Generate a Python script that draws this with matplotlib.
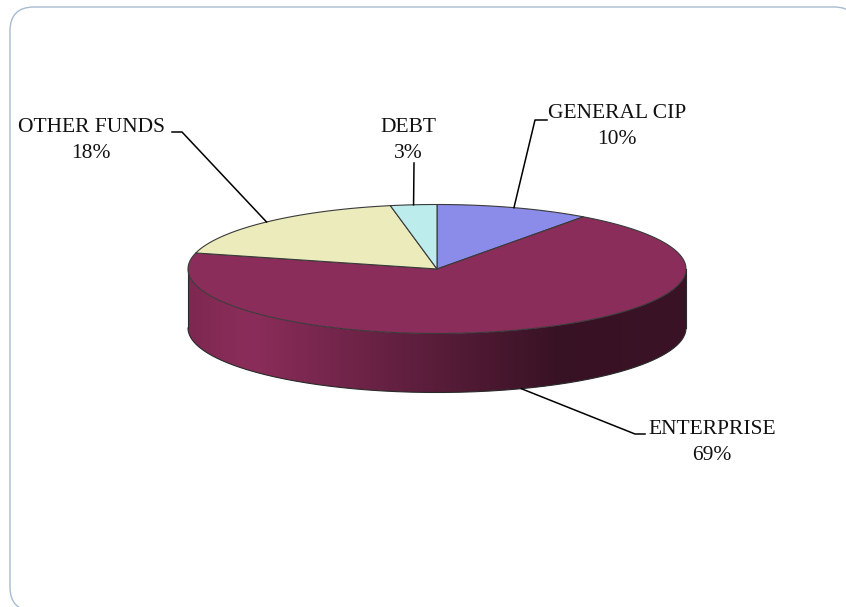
import numpy as np
import matplotlib
matplotlib.use("Agg")
import matplotlib.pyplot as plt
from matplotlib.patches import Polygon, FancyBboxPatch

labels = ["GENERAL CIP", "ENTERPRISE", "OTHER FUNDS", "DEBT"]
values = [10, 69, 18, 3]
colors = ["#8b8ce9", "#8b2d5a", "#ecebbc", "#bcecec"]

# label text centres (pixels) and elbow of each leader line
label_pos = [(617, 113), (712, 429), (91, 128), (408, 128)]
elbows = [[(547, 120), (535, 120)],
          [(645, 434), (635, 434)],
          [(172, 132), (182, 132)],
          [(414, 163)]]

# pie geometry in pixels
cx, cy = 437, 269
a, b = 249, 64.5
depth = 59

W, H = 846, 607
fig = plt.figure(figsize=(W / 100, H / 100), dpi=100)
ax = fig.add_axes([0, 0, 1, 1])

# rounded frame
frame = FancyBboxPatch((10, 7), 848, 604, boxstyle="round,pad=0,rounding_size=24",
                       fc="white", ec="#a9bbd0", lw=1.0, zorder=0)
ax.add_patch(frame)

def pt(t, dz=0.0):
    t = np.radians(t)
    return cx + a * np.cos(t), cy - b * np.sin(t) + dz

# brightness of the side wall vs. horizontal position (cos of angle)
def shade_factor(c):
    return np.interp(c, [-1, -0.75, 0.49, 1], [0.9, 1.0, 0.4, 0.42])

# slice angles: start at 12 o'clock, go clockwise
fracs = np.array(values) / sum(values)
starts = 90 - 360 * np.concatenate([[0], np.cumsum(fracs)[:-1]])
ends = starts - 360 * fracs
mids = (starts + ends) / 2

# side wall (front half only, angles -180..0), gradient clipped to the wall
xg = np.linspace(cx - a, cx + a, 600)
fg = shade_factor((xg - cx) / a)
for s, e, col in zip(starts, ends, colors):
    rgb = np.array(matplotlib.colors.to_rgb(col))
    for off in (0, -360, 360):
        lo, hi = max(e + off, -180), min(s + off, 0)
        if hi <= lo:
            continue
        ts = np.linspace(hi, lo, 200)
        tx, ty = pt(ts)
        bx, by = pt(ts[::-1], depth)
        wall = Polygon(list(zip(tx, ty)) + list(zip(bx, by)), closed=True,
                       fc="none", ec="none")
        ax.add_patch(wall)
        img = np.clip(fg[None, :, None] * rgb[None, None, :], 0, 1).repeat(2, axis=0)
        im = ax.imshow(img, extent=(cx - a, cx + a, cy + b + depth + 2, cy - 2),
                       aspect="auto", interpolation="bilinear", zorder=2)
        im.set_clip_path(wall)

# side outline
tt = np.linspace(-180, 0, 300)
bx, by = pt(tt, depth)
ax.plot(bx, by, color="#2a2a2a", lw=0.8, zorder=3)
for t in (-180, 0):
    x, y = pt(t)
    ax.plot([x, x], [y, y + depth], color="#2a2a2a", lw=0.8, zorder=3)

# top face
for s, e, col in zip(starts, ends, colors):
    ts = np.linspace(s, e, 200)
    xs, ys = pt(ts)
    verts = [(cx, cy)] + list(zip(xs, ys))
    ax.add_patch(Polygon(verts, closed=True, fc=col, ec="#3a3a3a", lw=0.8, zorder=4))

# labels and leader lines
for name, v, (lx, ly), mid, elb in zip(labels, values, label_pos, mids, elbows):
    ax.text(lx, ly, name, ha="center", va="center", fontsize=15.5,
            family="Liberation Serif", color="#111111", zorder=6)
    ax.text(lx, ly + 26, f"{v}%", ha="center", va="center", fontsize=15.5,
            family="Liberation Serif", color="#111111", zorder=6)
    mx, my = pt(mid)
    if np.sin(np.radians(mid)) < 0:
        my += depth
    xs = [p[0] for p in elb] + [mx]
    ys = [p[1] for p in elb] + [my]
    ax.plot(xs, ys, color="black", lw=1.1, zorder=5)

ax.set_xlim(0, W)
ax.set_ylim(H, 0)
ax.axis("off")

fig.savefig("out.png", dpi=100)
